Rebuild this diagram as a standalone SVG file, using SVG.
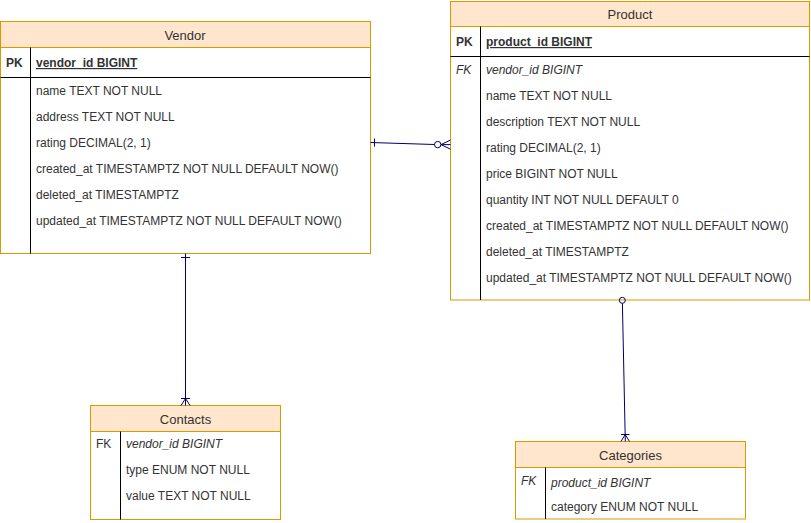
<svg xmlns="http://www.w3.org/2000/svg" width="811" height="523" viewBox="0 0 811 523">
<style>
.box{fill:#ffffff;stroke:#d79b00;stroke-width:1}
.hdr{fill:#ffe6cc;stroke:#d79b00;stroke-width:1}
.sep{stroke:#000000;stroke-width:1;fill:none}
.t{font-family:"Liberation Sans",Arial,sans-serif;font-size:12px;fill:#333333}
.h{font-family:"Liberation Sans",Arial,sans-serif;font-size:13px;fill:#333333;text-anchor:middle}
.b{font-weight:bold}
.u{text-decoration:underline}
.i{font-style:italic}
.c{fill:none;stroke:#000066;stroke-width:1}
</style>
<rect width="811" height="523" fill="#ffffff"/>
<g id="vendor">
<rect class="box" x="0.5" y="21.5" width="370" height="232"/>
<rect class="hdr" x="0.5" y="21.5" width="370" height="26"/>
<text class="h" x="185" y="39.5">Vendor</text>
<line class="sep" x1="0.5" y1="77.5" x2="370.5" y2="77.5"/>
<line class="sep" x1="30.5" y1="47.5" x2="30.5" y2="253.5"/>
<text class="t b" x="6" y="67">PK</text>
<text class="t b u" x="36" y="67">vendor_id BIGINT</text>
<text class="t" x="36" y="95">name TEXT NOT NULL</text>
<text class="t" x="36" y="121">address TEXT NOT NULL</text>
<text class="t" x="36" y="147">rating DECIMAL(2, 1)</text>
<text class="t" x="36" y="173">created_at TIMESTAMPTZ NOT NULL DEFAULT NOW()</text>
<text class="t" x="36" y="199">deleted_at TIMESTAMPTZ</text>
<text class="t" x="36" y="225">updated_at TIMESTAMPTZ NOT NULL DEFAULT NOW()</text>
</g>
<g id="product">
<rect class="box" x="450.5" y="1.5" width="359" height="298.5"/>
<rect class="hdr" x="450.5" y="1.5" width="359" height="25"/>
<text class="h" x="630" y="19">Product</text>
<line class="sep" x1="450.5" y1="56.5" x2="809.5" y2="56.5"/>
<line class="sep" x1="480.5" y1="26.5" x2="480.5" y2="300"/>
<text class="t b" x="456" y="46">PK</text>
<text class="t b u" x="486" y="46">product_id BIGINT</text>
<text class="t i" x="456" y="74">FK</text>
<text class="t i" x="486" y="74">vendor_id BIGINT</text>
<text class="t" x="486" y="100">name TEXT NOT NULL</text>
<text class="t" x="486" y="126">description TEXT NOT NULL</text>
<text class="t" x="486" y="152">rating DECIMAL(2, 1)</text>
<text class="t" x="486" y="178">price BIGINT NOT NULL</text>
<text class="t" x="486" y="204">quantity INT NOT NULL DEFAULT 0</text>
<text class="t" x="486" y="230">created_at TIMESTAMPTZ NOT NULL DEFAULT NOW()</text>
<text class="t" x="486" y="256">deleted_at TIMESTAMPTZ</text>
<text class="t" x="486" y="282">updated_at TIMESTAMPTZ NOT NULL DEFAULT NOW()</text>
</g>
<g id="contacts">
<rect class="box" x="90.5" y="405.5" width="190" height="114"/>
<rect class="hdr" x="90.5" y="405.5" width="190" height="26"/>
<text class="h" x="185.5" y="423.5">Contacts</text>
<line class="sep" x1="120.5" y1="431.5" x2="120.5" y2="519.5"/>
<text class="t" x="96" y="448">FK</text>
<text class="t i" x="126" y="448">vendor_id BIGINT</text>
<text class="t" x="126" y="474">type ENUM NOT NULL</text>
<text class="t" x="126" y="500">value TEXT NOT NULL</text>
</g>
<g id="categories">
<rect class="box" x="515.5" y="441.5" width="230" height="77.5"/>
<rect class="hdr" x="515.5" y="441.5" width="230" height="26"/>
<text class="h" x="630.5" y="459.5">Categories</text>
<line class="sep" x1="545.5" y1="467.5" x2="545.5" y2="519"/>
<text class="t i" x="521" y="485">FK</text>
<text class="t i" x="551" y="487">product_id BIGINT</text>
<text class="t" x="551" y="511">category ENUM NOT NULL</text>
</g>
<g id="connectors">
<path class="c" d="M370.5 142.5 L434.5 144.5"/>
<path class="c" d="M374.5 138.5 L374.5 146.5"/>
<circle class="c" cx="437.7" cy="144.6" r="3.2"/>
<path class="c" d="M440.9 144.6 L450.5 144.6 M441 144.6 L450.5 140 M441 144.6 L450.5 149.2"/>
<path class="c" d="M185.5 253.5 L185.5 405.5"/>
<path class="c" d="M181 257.5 L190 257.5"/>
<path class="c" d="M181 398.5 L190 398.5 M185.5 398.5 L181 405.5 M185.5 398.5 L190 405.5"/>
<circle class="c" cx="622.3" cy="300.3" r="3"/>
<path class="c" d="M622.4 303.3 L625.3 441.5"/>
<path class="c" d="M621 434.5 L629.5 434.5 M625.2 434.5 L621 441.5 M625.2 434.5 L629.5 441.5"/>
</g>
</svg>
